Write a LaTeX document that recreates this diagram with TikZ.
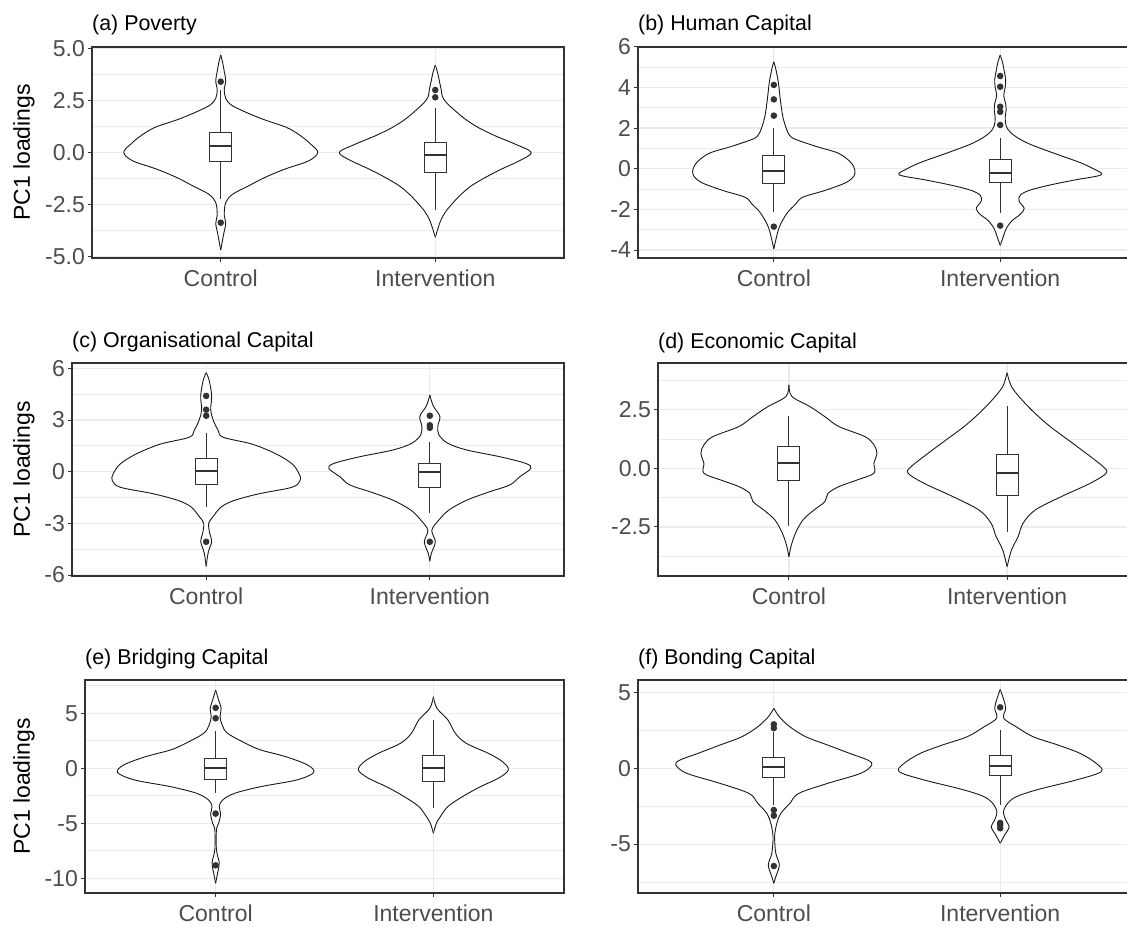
\documentclass[tikz,border=0pt]{standalone}
\usepackage{fontspec}
\setmainfont{Liberation Sans}
\definecolor{axgrey}{HTML}{4D4D4D}
\definecolor{gridc}{HTML}{EBEBEB}
\definecolor{framec}{HTML}{333333}
\tikzset{
  gmajor/.style={draw=gridc,line width=1.3pt},
  gminor/.style={draw=gridc,line width=0.8pt},
  framest/.style={draw=framec,line width=1.1pt},
  tk/.style={draw=framec,line width=1pt},
  ytl/.style={anchor=east,inner sep=0pt,text=axgrey,font=\fontsize{23}{23}\selectfont},
  xtl/.style={anchor=center,inner sep=0pt,text=axgrey,font=\fontsize{23}{23}\selectfont},
  ttl/.style={anchor=west,inner sep=0pt,text=black,font=\fontsize{21.4}{21.4}\selectfont},
  ytt/.style={rotate=90,anchor=center,inner sep=0pt,text=black,font=\fontsize{23}{23}\selectfont},
  vl/.style={draw=black!90,line width=0.9pt,line join=round},
  wh/.style={draw=framec,line width=1pt},
  bxs/.style={draw=framec,fill=white,line width=1pt},
  md/.style={draw=framec,line width=2pt},
  ptc/.style={fill=framec},
}
\newcommand\setpanel[6]{\def\pL{#1}\def\pR{#2}\def\pT{#3}\def\pB{#4}\def\pY{#5}\def\pS{#6}%
  \pgfmathsetmacro\pC{#1+0.6*(#2-#1)/2.2}\pgfmathsetmacro\pI{#1+1.6*(#2-#1)/2.2}}
\newcommand\pgrid[2]{%
  \foreach \m in {#2} \draw[gminor] (\pL,{-\pY+\pS*\m}) -- (\pR,{-\pY+\pS*\m});
  \foreach \v/\l in {#1} \draw[gmajor] (\pL,{-\pY+\pS*\v}) -- (\pR,{-\pY+\pS*\v});
  \draw[gmajor] (\pC,-\pT) -- (\pC,-\pB);
  \draw[gmajor] (\pI,-\pT) -- (\pI,-\pB);}
\newcommand\paxes[4]{% majors, name, title, title y
  \draw[framest] (\pL,-\pT) rectangle (\pR,-\pB);
  \foreach \v/\l in {#1} {\draw[tk] ({\pL-4},{-\pY+\pS*\v}) -- (\pL,{-\pY+\pS*\v});
    \node[ytl] at ({\pL-7},{-\pY+\pS*\v}) {\l};}
  \draw[tk] (\pC,-\pB) -- (\pC,{-\pB-4});
  \draw[tk] (\pI,-\pB) -- (\pI,{-\pB-4});
  \node[xtl] (#2ctl) at (\pC,{-\pB-20}) {Control};
  \node[xtl] (#2int) at (\pI,{-\pB-20}) {Intervention};
  \node[ttl] (#2ttl) at (\pL,-#4) {#3};}
\newcommand\vio[2]{%
  \begin{scope}[shift={(#1,-\pY)},yscale=\pS]
  \foreach \mm in {1,-1}{\begin{scope}[xscale=\mm]
    \fill[white] plot[smooth,tension=0.55] coordinates {#2} -- cycle;
    \draw[vl] plot[smooth,tension=0.55] coordinates {#2};
  \end{scope}}
  \end{scope}}
\newcommand\bxp[6]{%
  \begin{scope}[shift={(#1,-\pY)},yscale=\pS]
  \draw[wh] (0,#4) -- (0,#6);
  \draw[wh] (0,#2) -- (0,#5);
  \filldraw[bxs] (-11,#2) rectangle (11,#4);
  \draw[md] (-11,#3) -- (11,#3);
  \end{scope}}
\newcommand\outl[2]{\foreach \p in {#2} \fill[ptc] (#1,{-\pY+\pS*\p}) circle (3.3);}
\begin{document}
\begin{tikzpicture}[x=1pt,y=1pt]
\useasboundingbox (0,0) rectangle (1127,-927);
\clip (0,0) rectangle (1127,-927);
\fill[white] (0,0) rectangle (1127,-927);

% ---------- (a) Poverty
\setpanel{92}{564}{47}{258}{152.5}{20.83}
\pgrid{5/5.0,2.5/2.5,0/0.0,-2.5/-2.5,-5/-5.0}{3.75,1.25,-1.25,-3.75}
\vio{\pC}{(0,4.68) (2,4.3) (3.5,3.9) (5,3.45) (3.5,3.0) (5,2.6) (10,2.3) (22,2.0) (42,1.6) (66,1.2) (80,0.8) (90,0.4) (97,0.0) (88,-0.4) (64,-0.8) (44,-1.2) (28,-1.6) (12,-2.0) (5,-2.4) (3.5,-3.0) (5,-3.4) (3,-3.9) (0,-4.68)}
\vio{\pI}{(0,4.2) (2.5,3.8) (4,3.45) (6,3.0) (7,2.7) (11,2.4) (20,2.0) (30,1.6) (43,1.2) (60,0.8) (80,0.4) (96,0.0) (84,-0.4) (66,-0.8) (50,-1.2) (36,-1.6) (26,-2.0) (18,-2.4) (11,-2.8) (6,-3.2) (3,-3.6) (0,-4.07)}
\bxp{\pC}{-0.44}{0.31}{0.97}{-2.24}{3.0}
\bxp{\pI}{-0.97}{-0.12}{0.47}{-2.76}{2.13}
\outl{\pC}{3.4,-3.37}
\outl{\pI}{3.0,2.65}
\paxes{5/5.0,2.5/2.5,0/0.0,-2.5/-2.5,-5/-5.0}{a}{(a) Poverty}{25}
\node[ytt] (ya) at (24,-152.5) {PC1 loadings};

% ---------- (b) Human Capital
\setpanel{638}{1136}{47}{258}{168.7}{20.33}
\pgrid{6/6,4/4,2/2,0/0,-2/-2,-4/-4}{5,3,1,-1,-3}
\vio{\pC}{(0,5.26) (2,4.9) (4.5,4.25) (6.5,3.4) (9,2.56) (13,1.9) (17,1.57) (24,1.4) (44,1.07) (65,0.75) (78,0.25) (81,-0.25) (73,-0.66) (51,-1.07) (29,-1.4) (22,-1.73) (13,-2.2) (5.5,-2.87) (2,-3.5) (0,-3.95)}
\vio{\pI}{(0,5.59) (2.5,5.2) (4,4.8) (5.5,4.4) (5,4.0) (3.5,3.6) (5.5,3.2) (6,2.9) (5,2.5) (6,2.1) (10,1.8) (18,1.5) (30,1.2) (46,0.9) (63,0.6) (80,0.3) (93,0.0) (101,-0.3) (75,-0.55) (50,-0.8) (30,-1.05) (20,-1.3) (19,-1.6) (24,-1.95) (20,-2.25) (12,-2.55) (6,-2.95) (3,-3.35) (0,-3.77)}
\bxp{\pC}{-0.72}{-0.11}{0.64}{-2.11}{1.99}
\bxp{\pI}{-0.67}{-0.2}{0.43}{-2.2}{1.5}
\outl{\pC}{4.12,3.41,2.61,-2.85}
\outl{\pI}{4.56,4.03,3.05,2.8,2.15,-2.8}
\paxes{6/6,4/4,2/2,0/0,-2/-2,-4/-4}{b}{(b) Human Capital}{25}

% ---------- (c) Organisational Capital
\setpanel{72}{564}{363}{576}{471.7}{17.22}
\pgrid{6/6,3/3,0/0,-3/-3,-6/-6}{4.5,1.5,-1.5,-4.5}
\vio{\pC}{(0,5.75) (3,5.3) (5.5,4.4) (4.5,3.6) (7,3.0) (12,2.4) (17,2.0) (46,1.6) (70,1.03) (86,0.45) (93,-0.13) (94,-0.5) (86,-0.9) (53,-1.28) (28,-1.67) (15,-2.05) (7,-2.6) (2.5,-3.0) (3.5,-3.57) (5.5,-4.05) (2,-4.7) (0,-5.5)}
\vio{\pI}{(0,4.45) (3.6,3.8) (10,3.22) (8,2.64) (9,2.15) (18,1.65) (37,1.26) (70,0.87) (96,0.48) (101,0.19) (90,-0.29) (80,-0.77) (60,-1.16) (37,-1.65) (19,-2.23) (9,-2.81) (2,-3.4) (5.5,-4.07) (1.5,-4.75) (0,-5.2)}
\bxp{\pC}{-0.77}{0.04}{0.78}{-2.03}{2.23}
\bxp{\pI}{-0.91}{-0.04}{0.49}{-2.38}{1.74}
\outl{\pC}{4.4,3.6,3.25,-4.07}
\outl{\pI}{3.25,2.7,2.55,-4.07}
\paxes{6/6,3/3,0/0,-3/-3,-6/-6}{c}{(c) Organisational Capital}{342}
\node[ytt] (yc) at (24,-469.5) {PC1 loadings};

% ---------- (d) Economic Capital
\setpanel{658}{1138}{363}{576}{468.3}{23.47}
\pgrid{2.5/2.5,0/0.0,-2.5/-2.5}{3.75,1.25,-1.25,-3.75}
\vio{\pC}{(0,3.55) (3,3.06) (21,2.63) (36,2.2) (50,1.78) (76,1.35) (85,1.0) (88,0.64) (85,0.21) (85,-0.21) (68,-0.5) (50,-0.78) (39,-1.07) (36,-1.42) (25,-1.78) (14,-2.2) (6.5,-2.77) (2,-3.34) (0,-3.77)}
\vio{\pI}{(0,4.07) (4.4,3.48) (15,2.91) (28,2.34) (43,1.78) (61,1.21) (79,0.64) (96,0.07) (99,-0.21) (83,-0.64) (54,-1.21) (28,-1.78) (16,-2.34) (11,-2.91) (4.4,-3.48) (0,-4.19)}
\bxp{\pC}{-0.5}{0.24}{0.92}{-2.44}{2.24}
\bxp{\pI}{-1.17}{-0.21}{0.57}{-2.7}{2.65}
\paxes{2.5/2.5,0/0.0,-2.5/-2.5}{d}{(d) Economic Capital}{342.5}

% ---------- (e) Bridging Capital
\setpanel{85}{564}{680}{893}{768.3}{11}
\pgrid{5/5,0/0,-5/-5,-10/-10}{7.5,2.5,-2.5,-7.5}
\vio{\pC}{(0,7.12) (3,6.2) (5.5,5.45) (4.4,4.7) (6.5,3.94) (12,3.18) (30,2.27) (45,1.67) (70,1.06) (92,0.3) (98,-0.39) (81,-1.06) (45,-1.67) (19,-2.27) (7,-2.88) (3.6,-3.48) (5,-4.15) (3,-5.0) (0.8,-5.6) (0.8,-7.4) (3.6,-8.6) (2,-9.5) (0,-10.45)}
\vio{\pI}{(0,6.5) (3.6,5.45) (14.5,4.4) (22,3.18) (33,2.27) (55,1.36) (69,0.61) (75,-0.15) (65,-0.9) (47,-1.67) (29,-2.58) (14.5,-3.48) (7,-4.39) (3,-5.0) (0,-5.9)}
\bxp{\pC}{-1.0}{0.0}{0.9}{-2.21}{3.39}
\bxp{\pI}{-1.21}{0.0}{1.18}{-3.64}{4.39}
\outl{\pC}{5.5,4.55,-4.12,-8.82}
\paxes{5/5,0/0,-5/-5,-10/-10}{e}{(e) Bridging Capital}{659}
\node[ytt] (ye) at (24,-786.5) {PC1 loadings};

% ---------- (f) Bonding Capital
\setpanel{638}{1136}{680}{893}{768.3}{15.17}
\pgrid{5/5,0/0,-5/-5}{2.5,-2.5,-7.5}
\vio{\pC}{(0,3.95) (5.5,3.4) (16,2.74) (32,2.08) (54,1.53) (76,0.98) (94,0.54) (98,0.22) (87,-0.33) (54,-0.99) (25,-1.65) (16,-2.31) (7,-2.97) (3,-3.63) (0.8,-4.5) (2,-5.6) (5.5,-6.37) (2,-7.14) (0,-7.58)}
\vio{\pI}{(0,5.2) (3.6,4.5) (5.5,3.95) (3.6,3.3) (16,2.74) (33,2.08) (58,1.53) (80,0.98) (96,0.33) (101,-0.22) (76,-0.77) (36,-1.43) (13,-1.98) (3.6,-2.75) (5.5,-3.41) (9,-3.85) (4.4,-4.4) (0,-4.94)}
\bxp{\pC}{-0.62}{0.07}{0.7}{-2.42}{2.41}
\bxp{\pI}{-0.49}{0.15}{0.83}{-2.42}{2.52}
\outl{\pC}{2.9,2.65,-2.75,-3.12,-6.44}
\outl{\pI}{4.02,-3.6,-3.75,-3.95}
\paxes{5/5,0/0,-5/-5}{f}{(f) Bonding Capital}{659}
\end{tikzpicture}
\end{document}
